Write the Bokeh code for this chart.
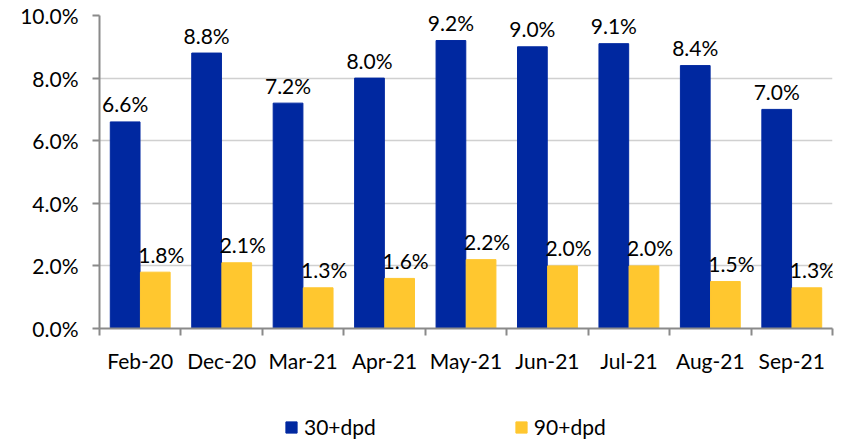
from bokeh.plotting import figure
from bokeh.layouts import column
from bokeh.models import (ColumnDataSource, Range1d, FixedTicker, LinearAxis,
                          PrintfTickFormatter, Legend, LegendItem)
from bokeh.transform import dodge
from bokeh.core.properties import value
from bokeh.embed import file_html
from bokeh.resources import INLINE

categories = ["Feb-20", "Dec-20", "Mar-21", "Apr-21", "May-21", "Jun-21", "Jul-21", "Aug-21", "Sep-21"]
dpd30 = [6.6, 8.8, 7.2, 8.0, 9.2, 9.0, 9.1, 8.4, 7.0]
dpd90 = [1.8, 2.1, 1.3, 1.6, 2.2, 2.0, 2.0, 1.5, 1.3]
series_names = ["30+dpd", "90+dpd"]
y_ticks = [0, 2, 4, 6, 8, 10]

BLUE = "#0028A0"
YELLOW = "#FFC72F"
AXIS = "#8a8a8a"
FONT = "Lato"
FS = "21px"

xs = [i + 0.5 for i in range(len(categories))]
src = ColumnDataSource(dict(
    x=xs, a=dpd30, b=dpd90,
    la=[f"{v:.1f}%" for v in dpd30],
    lb=[f"{v:.1f}%" for v in dpd90],
))

p = figure(width=846, height=410, output_backend="svg", toolbar_location=None,
           x_range=Range1d(0, len(categories)), y_range=Range1d(0, 10),
           min_border_left=99, min_border_right=14, min_border_top=15,
           min_border_bottom=82, x_axis_location=None)
p.outline_line_color = None
p.background_fill_color = "white"
p.border_fill_color = "white"

W = 0.365
p.vbar(x=dodge("x", -0.185, range=p.x_range), top="a", width=W, source=src,
       fill_color=BLUE, line_color=BLUE)
p.vbar(x=dodge("x", 0.185, range=p.x_range), top="b", width=W, source=src,
       fill_color=YELLOW, line_color=YELLOW)

p.text(x=dodge("x", -0.185, range=p.x_range), y="a", text="la", source=src,
       text_font=value(FONT), text_font_size=FS, text_color="black",
       text_align="center", text_baseline="alphabetic", y_offset=-18)
p.text(x=dodge("x", 0.185, range=p.x_range), y="b", text="lb", source=src,
       text_font=value(FONT), text_font_size=FS, text_color="black",
       text_align="center", text_baseline="alphabetic", y_offset=-18, x_offset=6)

# y axis
yax = p.yaxis[0]
yax.ticker = FixedTicker(ticks=y_ticks)
yax.formatter = PrintfTickFormatter(format="%.1f%%")
yax.major_label_text_font = FONT
yax.major_label_text_font_size = FS
yax.major_label_text_color = "black"
yax.axis_line_color = AXIS
yax.axis_line_width = 2
yax.major_tick_line_color = AXIS
yax.major_tick_line_width = 2
yax.major_tick_out = 7
yax.major_tick_in = 0
yax.minor_tick_line_color = None
yax.major_label_standoff = 14

p.ygrid.ticker = FixedTicker(ticks=y_ticks)
p.ygrid.grid_line_color = "#d0d0d0"
p.ygrid.grid_line_width = 1.5
p.xgrid.visible = False

# x axis: boundary ticks (no labels)
ax_b = LinearAxis(ticker=FixedTicker(ticks=list(range(len(categories) + 1))))
ax_b.major_label_overrides = {i: "" for i in range(len(categories) + 1)}
ax_b.major_label_text_font_size = "1px"
ax_b.major_label_standoff = 0
ax_b.axis_line_color = AXIS
ax_b.axis_line_width = 2
ax_b.major_tick_line_color = AXIS
ax_b.major_tick_line_width = 2
ax_b.major_tick_out = 7
ax_b.major_tick_in = 0
ax_b.minor_tick_line_color = None
p.add_layout(ax_b, "below")

# x axis: category labels
ax_l = LinearAxis(ticker=FixedTicker(ticks=xs))
ax_l.major_label_overrides = {x: c for x, c in zip(xs, categories)}
ax_l.major_label_text_font = FONT
ax_l.major_label_text_font_size = FS
ax_l.major_label_text_color = "black"
ax_l.axis_line_color = None
ax_l.major_tick_line_color = None
ax_l.minor_tick_line_color = None
ax_l.major_tick_out = 0
ax_l.major_label_standoff = 12
p.add_layout(ax_l, "below")

# legend strip (legend swatches come from off-view renderers)
q = figure(width=846, height=31, output_backend="svg", toolbar_location=None,
           x_range=Range1d(0, 1), y_range=Range1d(0, 1),
           min_border_left=0, min_border_right=0, min_border_top=0, min_border_bottom=0,
           x_axis_location=None, y_axis_location=None)
q.outline_line_color = None
q.xgrid.visible = False
q.ygrid.visible = False
off = ColumnDataSource(dict(x=[-10], top=[-10]))
g1 = q.vbar(x="x", top="top", bottom=-11, width=0.1, source=off, fill_color=BLUE, line_color=BLUE)
g2 = q.vbar(x="x", top="top", bottom=-11, width=0.1, source=off, fill_color=YELLOW, line_color=YELLOW)
legend = Legend(items=[LegendItem(label=series_names[0], renderers=[g1]),
                       LegendItem(label=series_names[1], renderers=[g2])],
                orientation="horizontal", location=(185, 2),
                label_text_font=FONT, label_text_font_size=FS, label_text_color="black",
                glyph_width=14, glyph_height=14, label_standoff=6, label_height=20,
                spacing=138, padding=0, margin=0,
                border_line_color=None, background_fill_alpha=0)
q.add_layout(legend, "center")

layout = column(p, q, spacing=0)
open("out.html", "w").write(file_html(layout, INLINE))
